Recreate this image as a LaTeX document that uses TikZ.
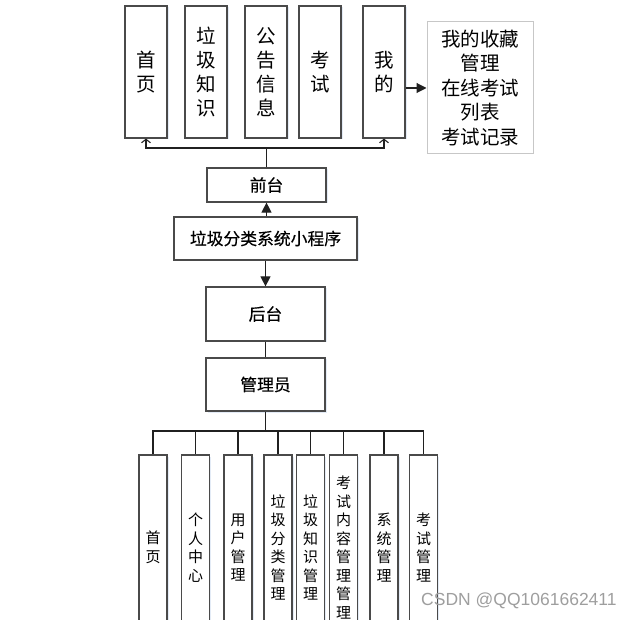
\documentclass[tikz,border=0pt]{standalone}
\usepackage{fontspec}
\setmainfont{Noto Sans CJK SC}
\newfontfamily\midfont[FakeBold=0.4]{Noto Sans CJK SC}
\newfontfamily\wmfont{Liberation Sans}
\usetikzlibrary{arrows.meta,shadows}
\definecolor{boxline}{HTML}{4A4A4A}
\definecolor{lineblk}{HTML}{202020}
\definecolor{shade}{HTML}{DCE6F4}
\tikzset{
  base/.style={draw=boxline, line width=1.2pt, fill=white, inner sep=0pt, align=center,
     drop shadow={shadow xshift=1.5pt, shadow yshift=-1.5pt, fill=shade, opacity=0.8}},
  topbox/.style={base, minimum width=42pt, minimum height=132pt, font=\fontsize{19.5}{24}\selectfont},
  midbox/.style={base, minimum width=119pt, font=\midfont\fontsize{16.8}{19}\selectfont},
  botbox/.style={base, minimum width=28pt, minimum height=185pt, font=\fontsize{15}{18.5}\selectfont},
  infobox/.style={draw=black!22, line width=1pt, fill=white, inner sep=0pt, align=center,
     minimum width=106pt, minimum height=132pt, font=\fontsize{19.5}{24.5}\selectfont},
  conn/.style={draw=lineblk, line width=1.1pt},
  openarr/.style={conn, -{Straight Barb[length=3.5pt, width=9pt]}},
  fillarr/.style={conn, -{Triangle[length=10pt, width=10pt]}},
}
\begin{document}
\begin{tikzpicture}[x=1pt, y=-1pt]
\useasboundingbox (0,0) rectangle (632,620);
\clip (0,0) rectangle (632,620);
% top row
\node[topbox] (sy) at (146,72) {首\\页};
\node[topbox] (lj) at (206,72) {垃\\圾\\知\\识};
\node[topbox] (gg) at (266,72) {公\\告\\信\\息};
\node[topbox] (ks) at (320,72) {考\\试};
\node[topbox] (wd) at (384,72) {我\\的};
\node[infobox] (info) at (480,88) {我的收藏\\管理\\在线考试\\列表\\考试记录};
% middle
\node[midbox, minimum height=34pt] (qt) at (266.5,185) {前台};
\node[midbox, minimum width=183pt, minimum height=43pt] (xcx) at (265.5,238.5) {垃圾分类系统小程序};
\node[midbox, minimum height=54pt] (ht) at (265.5,314) {后台};
\node[midbox, minimum height=53pt] (gly) at (265.5,384.5) {管理员};
% bottom row
\node[botbox] (b1) at (153,547.5) {首\\页};
\node[botbox] (b2) at (195.5,547.5) {个\\人\\中\\心};
\node[botbox] (b3) at (238,547.5) {用\\户\\管\\理};
\node[botbox] (b4) at (278,547.5) {垃\\圾\\分\\类\\管\\理};
\node[botbox] (b5) at (310.5,547.5) {垃\\圾\\知\\识\\管\\理};
\node[botbox] (b6) at (343.5,547.5) {考\\试\\内\\容\\管\\理\\管\\理};
\node[botbox] (b7) at (384,547.5) {系\\统\\管\\理};
\node[botbox] (b8) at (423.5,547.5) {考\\试\\管\\理};
% connectors top
\coordinate (tb) at (266.5,148);
\draw[conn] (qt.north) -- (tb);
\draw[openarr] (tb) -| (sy.south);
\draw[openarr] (tb) -| (wd.south);
\draw[fillarr] (wd.east |- info.west) -- (info.west);
\draw[fillarr] (xcx.north -| qt.south) -- (qt.south);
\draw[fillarr] (xcx.south -| ht.north) -- (ht.north);
\draw[conn] (ht.south) -- (gly.north);
% bottom bus
\coordinate (bb) at (265.5,431);
\draw[conn] (gly.south) -- (bb);
\draw[conn] (b1.north) -- (b1.north |- bb) -- (b8.north |- bb) -- (b8.north);
\foreach \n in {b2,b3,b4,b5,b6,b7} {\draw[conn] (\n.north) -- (\n.north |- bb);}
% watermark
\node[anchor=west, text=black!38, font=\wmfont\fontsize{17.5}{20}\selectfont, inner sep=0pt] (wm) at (421,601) {CSDN @QQ1061662411};
\end{tikzpicture}
\end{document}
